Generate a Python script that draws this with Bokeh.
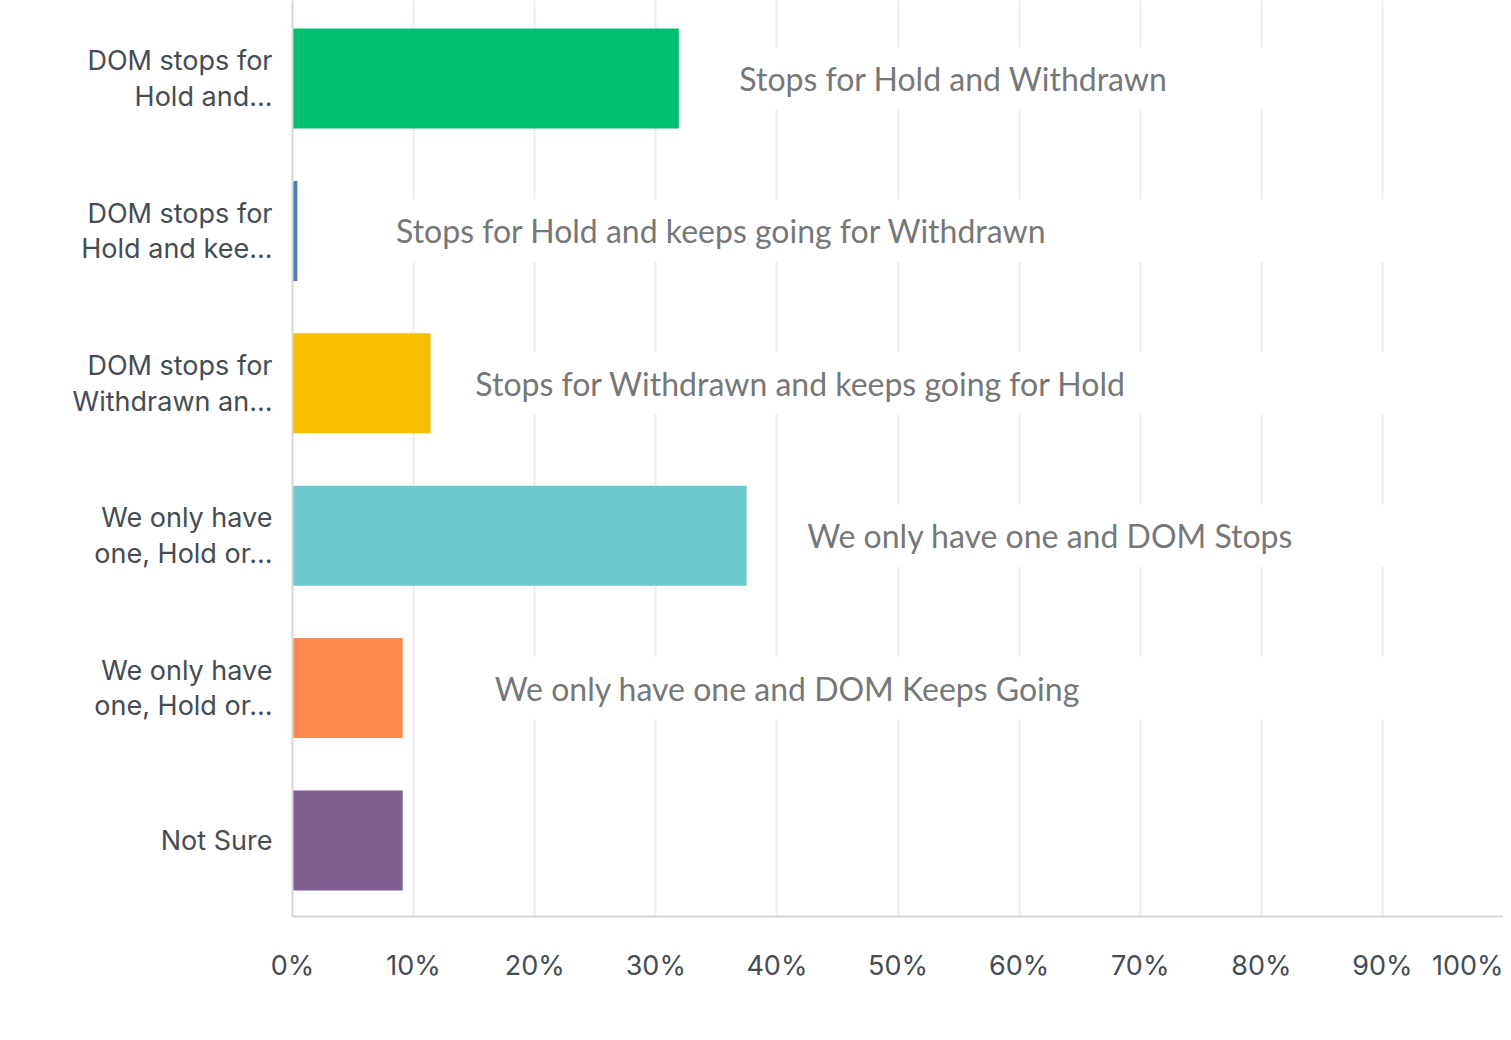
from bokeh.plotting import figure
from bokeh.models import Range1d, FixedTicker, ColumnDataSource
from bokeh.core.properties import value
from bokeh.embed import file_html
from bokeh.resources import INLINE

# ---- data ----
categories = [
    "DOM stops for\nHold and...",
    "DOM stops for\nHold and kee...",
    "DOM stops for\nWithdrawn an...",
    "We only have\none, Hold or...",
    "We only have\none, Hold or...",
    "Not Sure",
]
percentages = [31.9, 0.4, 11.4, 37.5, 9.1, 9.1]
bar_colors = ["#00bf6f", "#507cb6", "#f9be00", "#6bc8cd", "#ff8b4f", "#7d5e90"]

notes = [
    "Stops for Hold and Withdrawn",
    "Stops for Hold and keeps going for Withdrawn",
    "Stops for Withdrawn and keeps going for Hold",
    "We only have one and DOM Stops",
    "We only have one and DOM Keeps Going",
]
note_rows = [0, 1, 2, 3, 4]
note_x = [36.9, 8.55, 15.1, 42.5, 16.7]
note_box_left = [33.6, 6.4, 13.0, 41.0, 14.7]
note_box_right = [84.7, 100.0, 100.0, 100.0, 100.0]

x_ticks = [0, 10, 20, 30, 40, 50, 60, 70, 80, 90, 100]
x_tick_labels = ["0%", "10%", "20%", "30%", "40%", "50%", "60%", "70%", "80%", "90%", "100%"]

rows = list(range(len(categories)))

bar_src = ColumnDataSource(dict(y=rows, right=percentages, color=bar_colors))
note_src = ColumnDataSource(dict(
    x=note_x, y=note_rows, text=notes,
    left=note_box_left, right=note_box_right,
    bottom=[r + 0.205 for r in note_rows], top=[r - 0.205 for r in note_rows],
))

p = figure(
    width=1503, height=1020,
    x_range=Range1d(0, 100),
    y_range=Range1d(5.4987, -0.5118),
    output_backend="svg", toolbar_location=None,
    min_border_left=292, min_border_right=0, min_border_top=0, min_border_bottom=104,
)
p.outline_line_color = None
p.background_fill_color = "white"
p.border_fill_color = "white"

# grid
p.xgrid.ticker = FixedTicker(ticks=x_ticks)
p.xgrid.grid_line_color = "#ececec"
p.xgrid.grid_line_width = 2
p.ygrid.grid_line_color = None

# white boxes behind the notes (break the grid lines)
p.quad(left="left", right="right", bottom="bottom", top="top", source=note_src,
       fill_color="white", line_color=None)

# bars
p.hbar(y="y", left=0, right="right", height=0.656, source=bar_src,
       fill_color="color", line_color=None)

# notes
p.text(x="x", y="y", text="text", source=note_src,
       text_font=value("Lato"), text_font_size="32px", text_color="#777777",
       text_baseline="middle", text_align="left")

# axes
p.xaxis.ticker = FixedTicker(ticks=x_ticks)
p.xaxis.major_label_overrides = {t: l for t, l in zip(x_ticks, x_tick_labels)}
p.xaxis.major_tick_line_color = None
p.xaxis.minor_tick_line_color = None
p.xaxis.axis_line_color = "#d6d6d6"
p.xaxis.axis_line_width = 2
p.xaxis.major_label_standoff = 26
p.xaxis.major_label_text_font = "Inter"
p.xaxis.major_label_text_font_size = "27px"
p.xaxis.major_label_text_color = "#454c53"

p.yaxis.ticker = FixedTicker(ticks=rows)
p.yaxis.major_label_overrides = {r: c for r, c in zip(rows, categories)}
p.yaxis.major_tick_line_color = None
p.yaxis.minor_tick_line_color = None
p.yaxis.axis_line_color = "#d6d6d6"
p.yaxis.axis_line_width = 2
p.yaxis.major_label_standoff = 14
p.yaxis.major_label_text_font = "Inter"
p.yaxis.major_label_text_font_size = "27px"
p.yaxis.major_label_text_color = "#454c53"
p.yaxis.major_label_text_line_height = 1.08

open("out.html", "w").write(file_html(p, INLINE))
